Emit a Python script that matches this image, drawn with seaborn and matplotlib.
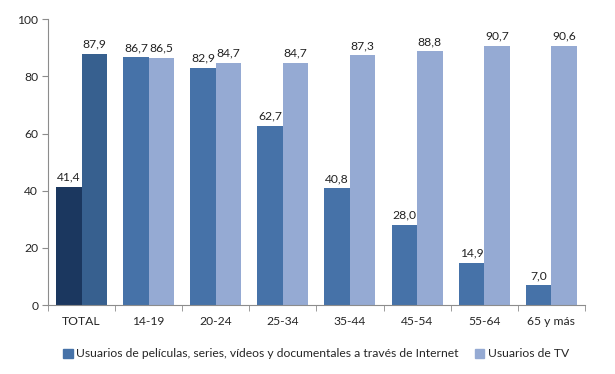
import matplotlib
matplotlib.use("Agg")
import matplotlib.pyplot as plt
import numpy as np
import pandas as pd
import seaborn as sns

categorias = ["TOTAL", "14-19", "20-24", "25-34", "35-44", "45-54", "55-64", "65 y más"]
internet = [41.4, 86.7, 82.9, 62.7, 40.8, 28.0, 14.9, 7.0]
tv = [87.9, 86.5, 84.7, 84.7, 87.3, 88.8, 90.7, 90.6]
series = ["Usuarios de películas, series, vídeos y documentales a través de Internet",
          "Usuarios de TV"]

df = pd.DataFrame({
    "grupo": categorias * 2,
    "valor": internet + tv,
    "serie": [series[0]] * len(categorias) + [series[1]] * len(categorias),
})

sns.set_style("white")
plt.rcParams["font.family"] = ["Lato", "DejaVu Sans"]

c_int = "#4672A8"
c_tv = "#95AAD3"

fig = plt.figure(figsize=(6.15, 3.74), dpi=100)
ax = fig.add_axes([0.078, 0.184, 0.873, 0.765])

sns.barplot(data=df, x="grupo", y="valor", hue="serie", order=categorias,
            hue_order=series, palette=[c_int, c_tv], width=0.76,
            saturation=1, legend=False, linewidth=0, edgecolor="none", ax=ax)

# las barras del TOTAL van en tonos más oscuros
bars_int = ax.containers[0]
bars_tv = ax.containers[1]
bars_int[0].set_facecolor("#1B375F")
bars_tv[0].set_facecolor("#37608F")

for cont in ax.containers:
    labels = [f"{v:.1f}".replace(".", ",") for v in cont.datavalues]
    ax.bar_label(cont, labels=labels, padding=3, fontsize=8.7, color="#222222")

ax.set_xlim(-0.5, 7.5)
ax.set_ylim(0, 100)
ax.set_yticks(np.arange(0, 101, 20))
ax.set_xlabel("")
ax.set_ylabel("")

for s in ["top", "right"]:
    ax.spines[s].set_visible(False)
for s in ["left", "bottom"]:
    ax.spines[s].set_color("#8C8C8C")
    ax.spines[s].set_linewidth(0.8)

ax.tick_params(axis="y", length=4, color="#8C8C8C", labelsize=8.7, pad=3, left=True)
ax.tick_params(axis="x", which="major", length=0, labelsize=8.7, pad=8)
ax.set_xticks(np.arange(-0.5, 8, 1), minor=True)
ax.tick_params(axis="x", which="minor", length=4, color="#8C8C8C", bottom=True)

handles = [plt.Rectangle((0, 0), 1, 1, color=c) for c in [c_int, c_tv]]
fig.legend(handles, series, loc="lower center", bbox_to_anchor=(0.514, 0.01),
           ncol=2, frameon=False, fontsize=8.7, handlelength=0.8, handleheight=0.8,
           handletextpad=0.3, columnspacing=1.3)

fig.savefig("out.png", dpi=100)
